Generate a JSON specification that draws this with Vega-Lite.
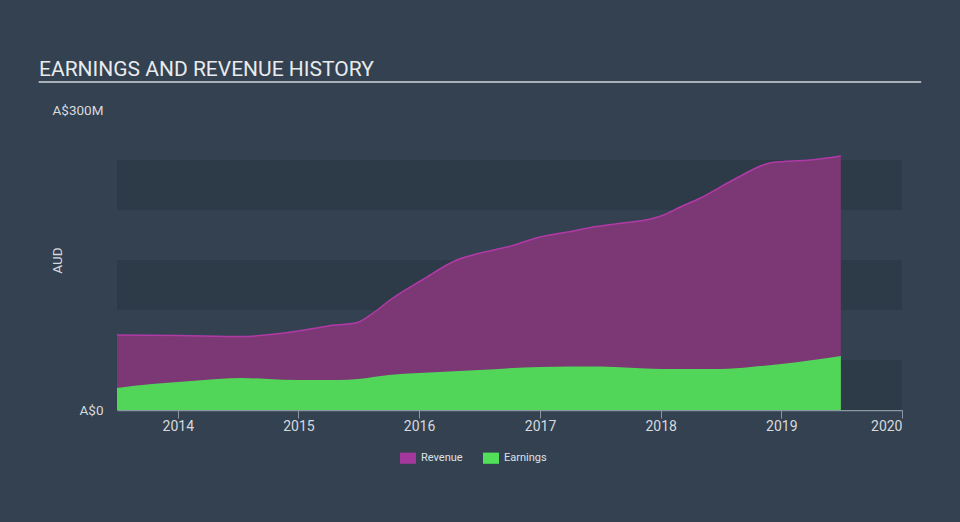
{
  "$schema": "https://vega.github.io/schema/vega-lite/v6.json",
  "width": 785,
  "height": 300,
  "autosize": "none",
  "padding": {"left": 117, "top": 110, "right": 58, "bottom": 112},
  "background": "#334151",
  "config": {"font": "Roboto", "view": {"stroke": null}},
  "title": {
    "text": "EARNINGS AND REVENUE HISTORY",
    "anchor": "start",
    "frame": "group",
    "dx": -78,
    "offset": -16,
    "baseline": "alphabetic",
    "fontSize": 21,
    "fontWeight": "normal",
    "color": "#e8eaec",
    "font": "Roboto"
  },
  "data": {
    "values": [
      {"date": "2013-07-01", "series": "Revenue", "value": 75},
      {"date": "2014-01-01", "series": "Revenue", "value": 74.5},
      {"date": "2014-07-15", "series": "Revenue", "value": 73.5},
      {"date": "2015-01-01", "series": "Revenue", "value": 79},
      {"date": "2015-04-01", "series": "Revenue", "value": 84},
      {"date": "2015-06-28", "series": "Revenue", "value": 87.5},
      {"date": "2015-08-15", "series": "Revenue", "value": 97},
      {"date": "2015-10-05", "series": "Revenue", "value": 110},
      {"date": "2016-01-10", "series": "Revenue", "value": 130},
      {"date": "2016-04-24", "series": "Revenue", "value": 150},
      {"date": "2016-07-03", "series": "Revenue", "value": 157},
      {"date": "2016-09-23", "series": "Revenue", "value": 163},
      {"date": "2017-01-01", "series": "Revenue", "value": 173},
      {"date": "2017-04-12", "series": "Revenue", "value": 179},
      {"date": "2017-06-10", "series": "Revenue", "value": 183},
      {"date": "2017-09-09", "series": "Revenue", "value": 187},
      {"date": "2017-12-01", "series": "Revenue", "value": 191},
      {"date": "2018-01-10", "series": "Revenue", "value": 195},
      {"date": "2018-03-01", "series": "Revenue", "value": 203},
      {"date": "2018-05-01", "series": "Revenue", "value": 212},
      {"date": "2018-08-08", "series": "Revenue", "value": 230},
      {"date": "2018-11-26", "series": "Revenue", "value": 247},
      {"date": "2019-01-08", "series": "Revenue", "value": 248.5},
      {"date": "2019-03-28", "series": "Revenue", "value": 250},
      {"date": "2019-06-30", "series": "Revenue", "value": 254},
      {"date": "2013-07-01", "series": "Earnings", "value": 22},
      {"date": "2013-10-15", "series": "Earnings", "value": 26},
      {"date": "2014-01-01", "series": "Earnings", "value": 28},
      {"date": "2014-05-01", "series": "Earnings", "value": 31},
      {"date": "2014-07-15", "series": "Earnings", "value": 32},
      {"date": "2014-10-01", "series": "Earnings", "value": 31},
      {"date": "2015-01-01", "series": "Earnings", "value": 30},
      {"date": "2015-05-01", "series": "Earnings", "value": 30},
      {"date": "2015-06-30", "series": "Earnings", "value": 31},
      {"date": "2015-10-01", "series": "Earnings", "value": 35},
      {"date": "2016-01-01", "series": "Earnings", "value": 37},
      {"date": "2016-07-01", "series": "Earnings", "value": 40},
      {"date": "2017-01-01", "series": "Earnings", "value": 43},
      {"date": "2017-07-01", "series": "Earnings", "value": 43.5},
      {"date": "2018-01-01", "series": "Earnings", "value": 41},
      {"date": "2018-07-01", "series": "Earnings", "value": 41},
      {"date": "2018-10-01", "series": "Earnings", "value": 43},
      {"date": "2019-01-01", "series": "Earnings", "value": 46},
      {"date": "2019-06-30", "series": "Earnings", "value": 54}
    ]
  },
  "layer": [
    {
      "data": {"values": [{"lo": 0, "hi": 50}, {"lo": 100, "hi": 150}, {"lo": 200, "hi": 250}]},
      "mark": {"type": "rect", "fill": "#2d3a48"},
      "encoding": {
        "x": {"datum": {"year": 2013, "month": 7, "date": 1, "utc": true}, "type": "temporal", "scale": {"type": "utc", "domain": [{"year": 2013, "month": 7, "date": 1, "utc": true}, {"year": 2020, "month": 1, "date": 1, "utc": true}]}},
        "x2": {"datum": {"year": 2020, "month": 1, "date": 1, "utc": true}},
        "y": {"field": "lo", "type": "quantitative", "scale": {"domain": [0, 300]}, "title": "AUD"},
        "y2": {"field": "hi"}
      }
    },
    {
      "transform": [{"filter": "datum.series == 'Revenue'"}],
      "mark": {"type": "area", "fill": "#7b3874", "opacity": 1, "fillOpacity": 1, "interpolate": "monotone", "line": {"color": "#b13aa7", "strokeWidth": 1.5, "opacity": 1}},
      "encoding": {
        "x": {
          "field": "date", "type": "temporal",
          "scale": {"type": "utc", "domain": [{"year": 2013, "month": 7, "date": 1, "utc": true}, {"year": 2020, "month": 1, "date": 1, "utc": true}]},
          "axis": {
            "values": [
              {"year": 2014, "month": 1, "date": 1, "utc": true},
              {"year": 2015, "month": 1, "date": 1, "utc": true},
              {"year": 2016, "month": 1, "date": 1, "utc": true},
              {"year": 2017, "month": 1, "date": 1, "utc": true},
              {"year": 2018, "month": 1, "date": 1, "utc": true},
              {"year": 2019, "month": 1, "date": 1, "utc": true},
              {"year": 2020, "month": 1, "date": 1, "utc": true}
            ],
            "format": "%Y",
            "title": null,
            "grid": false,
            "domainColor": "#8d97a2",
            "domainWidth": 1.5,
            "tickColor": "#8d97a2",
            "tickSize": 8,
            "labelColor": "#d6dade",
            "labelFontSize": 14,
            "labelPadding": 1
          }
        },
        "y": {
          "field": "value", "type": "quantitative",
          "scale": {"domain": [0, 300]},
          "title": "AUD",
          "axis": {
            "values": [0, 300],
            "labelExpr": "datum.value == 0 ? 'A$0' : 'A$' + datum.value + 'M'",
            "domain": false,
            "ticks": false,
            "grid": false,
            "labelPadding": 14,
            "labelColor": "#d6dade",
            "labelFontSize": 13.5,
            "titleColor": "#d6dade",
            "titleFontSize": 13.5,
            "titleFontWeight": "normal",
            "titleX": -60,
            "titleY": 150,
            "titleAngle": -90,
            "titleBaseline": "middle",
            "titleAlign": "center"
          }
        }
      }
    },
    {
      "transform": [{"filter": "datum.series == 'Earnings'"}],
      "mark": {"type": "area", "fill": "#52d65a", "opacity": 1, "fillOpacity": 1, "interpolate": "monotone"},
      "encoding": {
        "x": {"field": "date", "type": "temporal"},
        "y": {"field": "value", "type": "quantitative", "title": "AUD"}
      }
    },
    {
      "mark": {"type": "square", "opacity": 0},
      "encoding": {
        "x": {"field": "date", "type": "temporal"},
        "y": {"field": "value", "type": "quantitative", "title": "AUD"},
        "color": {
          "field": "series", "type": "nominal",
          "scale": {"domain": ["Revenue", "Earnings"], "range": ["#a3379c", "#52e05a"]},
          "legend": {
            "title": null,
            "orient": "none",
            "direction": "horizontal",
            "legendX": 283,
            "legendY": 340,
            "symbolType": "M-1,-0.7H1V0.7H-1Z",
            "symbolSize": 256,
            "symbolOpacity": 1,
            "symbolStrokeWidth": 0,
            "labelColor": "#dde1e5",
            "labelFontSize": 11,
            "labelOffset": 5,
            "columnPadding": 20
          }
        }
      }
    },
    {
      "data": {"values": [{"k": 1}]},
      "mark": {"type": "rule", "color": "#a9b0b8", "strokeWidth": 2},
      "encoding": {
        "x": {"datum": {"year": 2012, "month": 11, "date": 6, "utc": true}, "type": "temporal"},
        "x2": {"datum": {"year": 2020, "month": 2, "date": 28, "utc": true}},
        "y": {"datum": 328, "type": "quantitative"}
      }
    }
  ]
}
